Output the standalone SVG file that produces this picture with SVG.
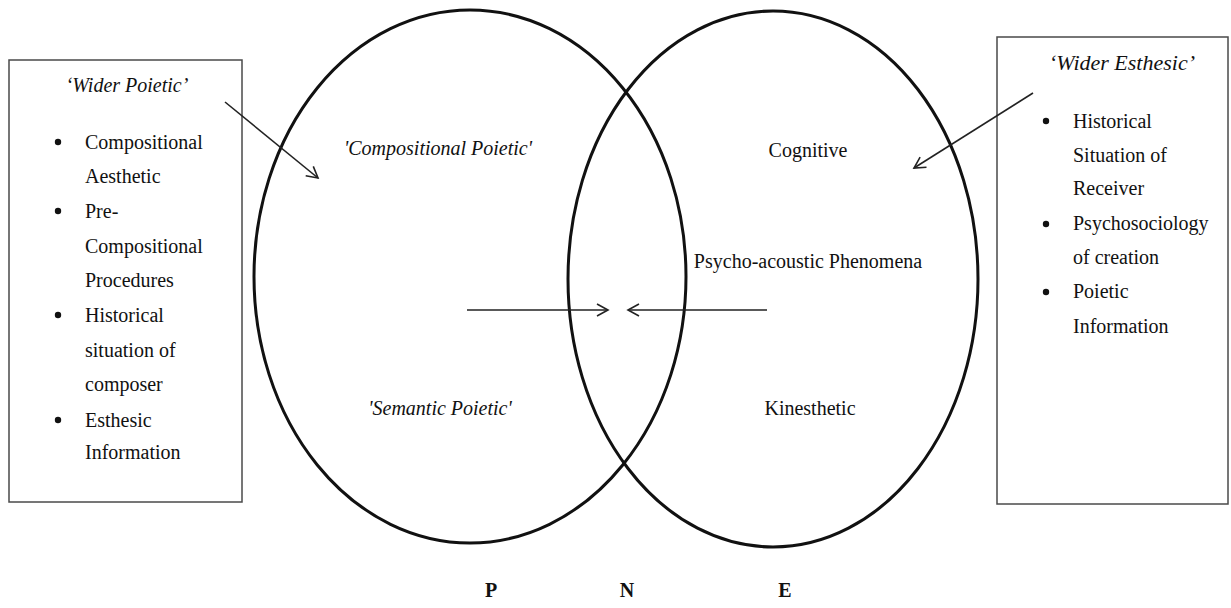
<svg xmlns="http://www.w3.org/2000/svg" width="1231" height="608" viewBox="0 0 1231 608">
  <style>
    text { font-family: "Liberation Serif", "Times New Roman", serif; fill: #111; font-size: 20px; }
    .it { font-style: italic; }
    .mid { text-anchor: middle; }
    .bold { font-weight: bold; }
    .box { fill: #fff; stroke: #4a4a4a; stroke-width: 1.5; }
    .ring { fill: none; stroke: #111; stroke-width: 3; }
    .link { fill: none; stroke: #222; stroke-width: 1.6; }
    .dot { fill: #111; }
  </style>
  <defs>
    <marker id="open" viewBox="0 0 14 14" refX="12" refY="7" markerWidth="14" markerHeight="14" markerUnits="userSpaceOnUse" orient="auto">
      <path d="M1,1 L12,7 L1,13" fill="none" stroke="#222" stroke-width="1.6"/>
    </marker>
  </defs>

  <rect width="1231" height="608" fill="#fff"/>

  <!-- outer boxes -->
  <g id="wider-poietic">
    <rect class="box" x="9" y="60" width="233" height="442"/>
    <text class="it mid" x="127" y="92">‘Wider Poietic’</text>
    <circle class="dot" cx="58" cy="142" r="3.2"/>
    <circle class="dot" cx="58" cy="211" r="3.2"/>
    <circle class="dot" cx="58" cy="315" r="3.2"/>
    <circle class="dot" cx="58" cy="420" r="3.2"/>
    <text x="85" y="149">Compositional</text>
    <text x="85" y="183">Aesthetic</text>
    <text x="85" y="218">Pre-</text>
    <text x="85" y="253">Compositional</text>
    <text x="85" y="287">Procedures</text>
    <text x="85" y="322">Historical</text>
    <text x="85" y="357">situation of</text>
    <text x="85" y="391">composer</text>
    <text x="85" y="427">Esthesic</text>
    <text x="85" y="459">Information</text>
  </g>

  <g id="wider-esthesic">
    <rect class="box" x="997" y="37" width="231" height="467"/>
    <text class="it mid" x="1122" y="70" style="font-size:22px">‘Wider Esthesic’</text>
    <circle class="dot" cx="1046" cy="121" r="3.2"/>
    <circle class="dot" cx="1046" cy="224" r="3.2"/>
    <circle class="dot" cx="1046" cy="292" r="3.2"/>
    <text x="1073" y="128">Historical</text>
    <text x="1073" y="162">Situation of</text>
    <text x="1073" y="195">Receiver</text>
    <text x="1073" y="230">Psychosociology</text>
    <text x="1073" y="264">of creation</text>
    <text x="1073" y="298">Poietic</text>
    <text x="1073" y="333">Information</text>
  </g>

  <!-- poietic and esthesic levels -->
  <g id="poietic">
    <ellipse class="ring" cx="470" cy="276.5" rx="216" ry="266.5"/>
    <text class="it mid" x="438" y="155">'Compositional Poietic'</text>
    <text class="it mid" x="440" y="415">'Semantic Poietic'</text>
  </g>

  <g id="esthesic">
    <ellipse class="ring" cx="773" cy="279" rx="205" ry="268"/>
    <text class="mid" x="808" y="157">Cognitive</text>
    <text class="mid" x="808" y="268">Psycho-acoustic Phenomena</text>
    <text class="mid" x="810" y="415">Kinesthetic</text>
  </g>

  <g id="axis-labels">
    <text class="bold mid" x="491" y="597">P</text>
    <text class="bold mid" x="627" y="597">N</text>
    <text class="bold mid" x="785" y="597">E</text>
  </g>

  <!-- connectors -->
  <g id="connectors">
    <line class="link" x1="225" y1="102" x2="318" y2="178" marker-end="url(#open)"/>
    <line class="link" x1="1033" y1="93" x2="914" y2="168" marker-end="url(#open)"/>
    <line class="link" x1="467" y1="310" x2="608" y2="310" marker-end="url(#open)"/>
    <line class="link" x1="767" y1="310" x2="628" y2="310" marker-end="url(#open)"/>
  </g>
</svg>
